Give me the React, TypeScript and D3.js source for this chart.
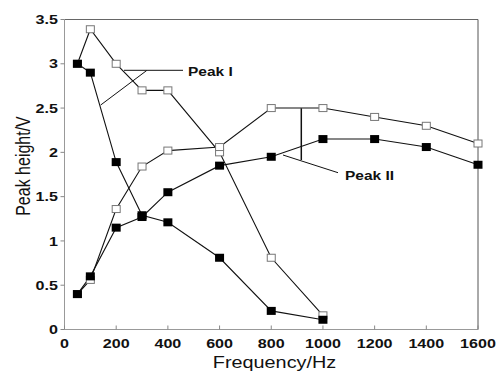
import React from 'react';
import * as d3 from 'd3';

// Frequency (Hz) for each series, and peak heights (V)
const freqPeakI = [50, 100, 200, 300, 400, 600, 800, 1000];
const openPeakI = [3.0, 3.39, 3.0, 2.7, 2.7, 2.0, 0.81, 0.16];
const filledPeakI = [3.0, 2.9, 1.89, 1.29, 1.21, 0.81, 0.21, 0.11];

const freqPeakII = [50, 100, 200, 300, 400, 600, 800, 1000, 1200, 1400, 1600];
const openPeakII = [0.4, 0.56, 1.36, 1.84, 2.02, 2.06, 2.5, 2.5, 2.4, 2.3, 2.1];
const filledPeakII = [0.4, 0.6, 1.15, 1.27, 1.55, 1.85, 1.95, 2.15, 2.15, 2.06, 1.86];

const xTicks = [0, 200, 400, 600, 800, 1000, 1200, 1400, 1600];
const yTicks = [0, 0.5, 1, 1.5, 2, 2.5, 3, 3.5];

const W = 497;
const H = 373;
const margin = { top: 19.5, right: 19, bottom: 43.5, left: 64.5 };
// the scanned figure is a bit stretched sideways, so text is widened to match
const SX = 1.24;

type Pt = [number, number];

export default function App() {
  const x = d3.scaleLinear().domain([0, 1600]).range([margin.left, W - margin.right]);
  const y = d3.scaleLinear().domain([0, 3.5]).range([H - margin.bottom, margin.top]);
  const line = d3.line<Pt>().x(d => x(d[0])).y(d => y(d[1]));

  const zip = (xs: number[], ys: number[]): Pt[] => xs.map((v, i) => [v, ys[i]]);
  const series = [
    { pts: zip(freqPeakI, openPeakI), filled: false },
    { pts: zip(freqPeakI, filledPeakI), filled: true },
    { pts: zip(freqPeakII, openPeakII), filled: false },
    { pts: zip(freqPeakII, filledPeakII), filled: true },
  ];

  const x0 = x(0), x1 = x(1600), y0 = y(0), y1 = y(3.5);
  const font = 'Liberation Sans, Arial, Helvetica, sans-serif';
  const at = (tx: number, ty: number) => `translate(${tx},${ty}) scale(${SX},1)`;

  return (
    <svg width={W} height={H} style={{ position: 'absolute', left: 0, top: 0, background: '#fff' }}
      fontFamily={font}>
      {/* frame */}
      <line x1={x0} x2={x1} y1={y1} y2={y1} stroke="#666" strokeWidth={1} />
      <line x1={x1} x2={x1} y1={y1} y2={y0} stroke="#555" strokeWidth={1} />
      <line x1={x0} x2={x0} y1={y1} y2={y0} stroke="#999" strokeWidth={1} />
      <line x1={x0} x2={x1} y1={y0} y2={y0} stroke="#999" strokeWidth={1} />

      {yTicks.map(t => (
        <g key={'y' + t}>
          <line x1={x0 - 4} x2={x0} y1={y(t)} y2={y(t)} stroke="#888" />
          <text transform={at(x0 - 6.5, y(t))} dy="0.36em" textAnchor="end" fontSize={13} fontWeight="bold" fill="#111">
            {t}
          </text>
        </g>
      ))}
      {xTicks.map(t => (
        <g key={'x' + t}>
          <line x1={x(t)} x2={x(t)} y1={y0} y2={y0 - 4} stroke="#888" />
          <text transform={at(x(t), 348)} textAnchor="middle" fontSize={13} fontWeight="bold" fill="#111">
            {t}
          </text>
        </g>
      ))}

      <text transform={at(274.5, 368)} textAnchor="middle" fontSize={16} fill="#111">Frequency/Hz</text>
      <text transform={`translate(30,166) scale(${SX},1) rotate(-90)`} textAnchor="middle" fontSize={16} fill="#111">
        Peak height/V
      </text>

      {series.map((s, i) => (
        <path key={'l' + i} d={line(s.pts) || ''} fill="none" stroke="#111" strokeWidth={1.1} />
      ))}
      {series.map((s, i) =>
        s.pts.map((p, j) =>
          s.filled ? (
            <rect key={`m${i}-${j}`} x={x(p[0]) - 4.5} y={y(p[1]) - 4} width={9} height={8} fill="#000" />
          ) : (
            <rect key={`m${i}-${j}`} x={x(p[0]) - 4} y={y(p[1]) - 3.5} width={8} height={7} fill="#fff" stroke="#777" strokeWidth={1} />
          )
        )
      )}

      {/* annotations */}
      <line x1={124} x2={183} y1={70.3} y2={70.3} stroke="#111" />
      <line x1={146.7} x2={100.7} y1={70.5} y2={105} stroke="#111" />
      <text transform={at(188, 76)} fontSize={12.5} fontWeight="bold" fill="#111">Peak I</text>

      <line x1={301.3} x2={301.3} y1={108.3} y2={160} stroke="#111" strokeWidth={1.5} />
      <line x1={283} x2={338} y1={155} y2={172.7} stroke="#111" />
      <text transform={at(345, 180)} fontSize={12.5} fontWeight="bold" fill="#111">Peak II</text>
    </svg>
  );
}
